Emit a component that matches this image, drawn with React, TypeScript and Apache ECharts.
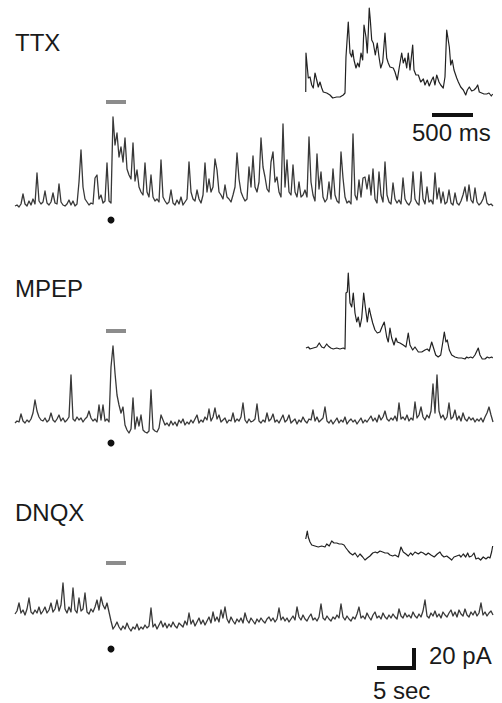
import React, { useEffect, useRef } from "react";
import * as echarts from "echarts";

// sampling period of the long recordings (s)
const DT = 0.2625;

// long recordings, current above baseline (pA)
const TTX_TRACE = [
  1, 2, 0, 3, 13, 3, 1, 6, 2, 8,
  3, 34, 6, 3, 5, 16, 4, 2, 5, 14,
  4, 3, 23, 5, 2, 1, 3, 7, 2, 6,
  1, 3, 25, 57, 20, 8, 5, 2, 4, 3,
  29, 32, 8, 12, 4, 6, 44, 6, 4, 90,
  62, 74, 50, 60, 45, 69, 38, 32, 28, 64,
  26, 37, 20, 15, 12, 44, 15, 10, 32, 10,
  6, 8, 5, 47, 10, 6, 3, 5, 17, 4,
  2, 7, 3, 10, 2, 5, 8, 45, 15, 8,
  6, 17, 8, 4, 12, 44, 15, 28, 15, 20,
  48, 37, 15, 12, 8, 22, 10, 8, 5, 12,
  20, 54, 28, 15, 10, 6, 8, 40, 20, 51,
  20, 15, 25, 69, 40, 30, 18, 15, 45, 55,
  25, 30, 15, 10, 83, 20, 47, 15, 12, 42,
  15, 10, 25, 10, 12, 17, 10, 70, 25, 12,
  6, 53, 18, 35, 10, 5, 8, 25, 8, 38,
  12, 6, 4, 55, 29, 10, 4, 6, 3, 73,
  12, 7, 27, 10, 29, 30, 18, 32, 12, 38,
  8, 4, 35, 12, 5, 45, 12, 5, 3, 24,
  8, 4, 7, 3, 29, 8, 4, 2, 6, 35,
  8, 4, 2, 35, 8, 3, 20, 5, 7, 3,
  34, 8, 19, 4, 15, 3, 5, 17, 4, 2,
  14, 4, 2, 6, 12, 20, 6, 22, 7, 4,
  19, 5, 2, 4, 8, 15, 4, 2, 3, 1,
];

const MPEP_TRACE = [
  0, 2, 1, 9, 2, 0, 3, 1, 4, 10,
  23, 12, 6, 3, 2, 5, 1, 3, 10, 3,
  1, 4, 8, 2, 5, 1, 3, 6, 48, 4,
  2, 6, 3, 5, 1, 4, 6, 12, 5, 2,
  4, 1, 18, 3, 18, 2, 4, 1, 56, 77,
  50, 28, 18, 10, 16, -2, -7, -10, -6, 25,
  -6, 6, -3, 8, -7, -9, -10, -8, 33, -6,
  -8, -9, -5, 8, 3, -2, 0, -3, 2, -2,
  1, -3, 3, 0, 4, -2, 1, -1, 3, 0,
  4, 8, 0, 3, 1, 6, 3, 14, 2, 6,
  15, 4, 8, 1, 3, 5, 0, 3, 2, 10,
  1, 4, 2, 6, 20, 3, 0, 4, 1, 2,
  4, 19, 2, 0, 3, 1, 10, 2, 4, 9,
  1, 3, 0, 4, 8, 1, 3, 8, 0, 2,
  4, -1, 3, 1, 6, 2, 0, 4, 3, 13,
  2, 6, 1, 3, 5, 16, 2, 0, 3, -1,
  2, 5, 0, 3, 1, 6, -1, 2, 4, 1,
  3, -1, 2, 5, 0, 3, 1, 4, 7, 2,
  5, 1, 8, 3, 6, 12, 4, 2, 5, 3,
  7, 2, 20, 4, 6, 3, 8, 2, 5, 3,
  21, 5, 8, 16, 6, 3, 8, 5, 12, 39,
  10, 48, 12, 5, 8, 3, 6, 20, 4, 6,
  13, 3, 7, 2, 10, 4, 2, 6, 3, 5,
  1, 4, 2, 5, 1, 6, 10, 16, 8, 1,
];

const DNQX_TRACE = [
  1, 4, 12, 2, 5, 0, 6, 17, 3, 1,
  5, 2, 8, 1, 4, 8, 2, 5, 12, 3,
  6, 15, 4, 10, 32, 6, 2, 8, 3, 27,
  5, 2, 17, 4, 6, 22, 3, 1, 6, 3,
  8, 15, 5, 18, 10, 6, 12, 3, -6, -14,
  -11, -7, -12, -15, -11, -14, -8, -13, -16, -12,
  -14, -9, -15, -12, -14, -10, -13, -11, 7, -12,
  -9, -14, -10, -6, -12, -8, -13, -9, -12, -7,
  -11, -13, -8, -10, -12, -6, -10, 2, -9, -5,
  -11, -7, -3, -9, -5, -10, -6, -2, -8, 3,
  -6, -2, -7, 5, -3, 8, -4, -8, -2, -6,
  -9, -4, -7, -3, -8, 2, -5, -8, -3, -6,
  -9, -4, -7, -3, -6, -8, -4, -2, -6, -3,
  -7, -4, 7, -5, -2, -6, -3, -7, -4, -1,
  -5, 8, -2, -5, 0, -4, -6, -2, 1, -5,
  -3, -6, -2, 11, -3, -5, -1, -4, -6, -2,
  -4, 0, -3, 11, -2, -5, -1, -4, -6, -2,
  -4, 1, 8, -3, -1, -4, 2, -2, -5, 0,
  3, -3, -1, -4, 2, -2, -4, 0, -3, 1,
  -2, -4, 6, -1, -3, 2, -2, 0, -3, 3,
  -1, -3, 1, -2, 4, 15, -1, -3, 2, -1,
  4, -2, 1, -3, 3, 0, -2, 2, 5, -1,
  3, -2, 5, 1, -1, 6, 0, -2, 3, 0,
  4, -1, 2, 12, 0, 3, -1, 2, 4, 0,
];

// expanded insets: time (ms) and current (pA)
const TTX_INSET_T = [
  9, 12, 40, 61, 82, 101, 122, 143, 162, 183, 204, 223, 265, 305, 338, 387, 427, 467, 488, 500,
  528, 549, 570, 582, 598, 622, 643, 662, 683, 704, 720, 744, 760, 772, 784, 797, 814, 833, 858, 882,
  903, 924, 948, 976, 997, 1016, 1037, 1077, 1098, 1126, 1151, 1180, 1199, 1220, 1241, 1260, 1281, 1314, 1330, 1354,
  1383, 1412, 1444, 1464, 1492, 1516, 1546, 1565, 1586, 1607, 1635, 1656, 1687, 1708, 1729, 1761, 1778, 1797, 1818, 1851,
  1871, 1900, 1932, 1961, 1981, 2005, 2034, 2062, 2086, 2107, 2127, 2156, 2184, 2217, 2245, 2273, 2290,
];
const TTX_INSET_V = [
  8, 47, 22, 23, 15, 12, 27, 20, 13, 18, 12, 8, 7, 5, 2, 3, 3, 5, 7, 43,
  78, 47, 43, 50, 40, 32, 37, 33, 47, 40, 75, 63, 47, 67, 92, 80, 60, 57, 45, 57,
  43, 32, 38, 67, 42, 37, 33, 32, 28, 20, 33, 47, 37, 42, 32, 47, 30, 55, 30, 25,
  25, 18, 21, 15, 20, 14, 20, 23, 15, 25, 18, 15, 12, 23, 70, 53, 35, 40, 30, 22,
  18, 13, 10, 5, 10, 13, 9, 10, 12, 15, 8, 7, 6, 6, 7, 4, 6,
];

const MPEP_INSET_T = [
  12, 40, 61, 101, 143, 174, 204, 232, 265, 284, 314, 345, 387, 427, 467, 488, 500, 516, 528, 549,
  570, 589, 610, 631, 650, 671, 692, 716, 736, 760, 784, 802, 826, 854, 882, 915, 939, 967, 997, 1016,
  1037, 1058, 1086, 1110, 1126, 1159, 1199, 1232, 1260, 1281, 1314, 1342, 1383, 1425, 1464, 1492, 1516, 1546, 1565, 1595,
  1625, 1656, 1680, 1700, 1720, 1736, 1761, 1790, 1830, 1871, 1912, 1952, 1973, 1993, 2022, 2046, 2074, 2114, 2135, 2163,
  2196, 2224, 2248, 2277, 2290,
];
const MPEP_INSET_V = [
  12, 13, 11, 12, 13, 17, 13, 12, 16, 14, 12, 11, 12, 11, 12, 11, 67, 68, 87, 57,
  53, 67, 47, 38, 43, 33, 42, 67, 53, 38, 52, 45, 37, 30, 27, 28, 33, 38, 23, 18,
  32, 22, 15, 22, 18, 17, 15, 13, 27, 15, 10, 13, 8, 8, 10, 11, 9, 18, 13, 5,
  3, 5, 17, 28, 18, 20, 10, 5, 3, 2, 2, 1, 3, 2, 3, 2, 5, 12, 5, 1,
  1, 3, 2, 3, 2,
];

const DNQX_INSET_T = [
  9, 28, 40, 61, 82, 122, 162, 204, 244, 265, 296, 326, 354, 387, 418, 448, 476, 500, 528, 549,
  582, 610, 643, 671, 704, 732, 760, 793, 826, 858, 882, 915, 948, 976, 1009, 1037, 1070, 1098, 1139, 1171,
  1199, 1232, 1260, 1289, 1313, 1342, 1383, 1415, 1443, 1476, 1504, 1537, 1577, 1614, 1647, 1668, 1696, 1729, 1761, 1790,
  1818, 1851, 1883, 1903, 1931, 1961, 1985, 2005, 2034, 2062, 2086, 2114, 2143, 2175, 2208, 2236, 2257, 2277, 2290,
];
const DNQX_INSET_V = [
  26, 34, 28, 23, 20, 19, 18, 19, 18, 21, 19, 24, 22, 22, 21, 21, 20, 17, 14, 12,
  10, 12, 8, 11, 8, 5, 7, 9, 12, 13, 12, 14, 13, 12, 12, 10, 9, 10, 8, 18,
  13, 11, 9, 12, 10, 13, 11, 13, 12, 10, 12, 10, 8, 11, 13, 10, 8, 9, 7, 5,
  8, 9, 10, 8, 11, 8, 12, 8, 9, 12, 6, 7, 5, 8, 6, 8, 7, 13, 19,
];

const LABELS = ["TTX", "MPEP", "DNQX"];
const INSET_BAR_LABEL = "500 ms";
const AMP_BAR_LABEL = "20 pA";
const TIME_BAR_LABEL = "5 sec";

const FONT = "'Liberation Sans', Arial, Helvetica, sans-serif";

export default function App() {
  const ref = useRef<HTMLDivElement>(null);

  useEffect(() => {
    if (!ref.current) return;
    const chart = echarts.init(ref.current, null, { renderer: "svg", width: 502, height: 703 });

    const mainMax = (TTX_TRACE.length - 1) * DT;
    const insetMax = 2294;

    const grids = [
      { left: 15, top: 99, width: 478, height: 120 },
      { left: 15, top: 333, width: 478, height: 120 },
      { left: 15, top: 575, width: 478, height: 70 },
      { left: 305, top: 0, width: 188, height: 100 },
      { left: 305, top: 260, width: 188, height: 100 },
      { left: 305, top: 525, width: 188, height: 40 },
    ];
    const yRanges = [
      [-12, 108],
      [-30, 90],
      [-30, 40],
      [0, 100],
      [0, 100],
      [0, 40],
    ];

    const mains = [TTX_TRACE, MPEP_TRACE, DNQX_TRACE];
    const insets = [
      [TTX_INSET_T, TTX_INSET_V],
      [MPEP_INSET_T, MPEP_INSET_V],
      [DNQX_INSET_T, DNQX_INSET_V],
    ];

    const series: any[] = [];
    mains.forEach((arr, k) => {
      series.push({
        type: "line",
        xAxisIndex: k,
        yAxisIndex: k,
        data: arr.map((v, i) => [i * DT, v]),
        symbol: "none",
        silent: true,
        clip: false,
        lineStyle: { color: "#383838", width: 1.3, join: "round" },
      });
    });
    insets.forEach(([ts, vs], k) => {
      series.push({
        type: "line",
        xAxisIndex: 3 + k,
        yAxisIndex: 3 + k,
        data: ts.map((t, i) => [t, vs[i]]),
        symbol: "none",
        silent: true,
        clip: false,
        lineStyle: { color: "#222222", width: 1.2, join: "round" },
      });
    });

    const text = (t: string, x: number, y: number) => ({
      type: "text",
      x,
      y,
      silent: true,
      style: {
        text: t,
        fontSize: 24,
        fontFamily: FONT,
        fill: "#1a1a1a",
        align: "left",
        verticalAlign: "middle",
      },
    });
    const rect = (x: number, y: number, w: number, h: number, fill: string) => ({
      type: "rect",
      silent: true,
      shape: { x, y, width: w, height: h },
      style: { fill },
    });
    const dot = (cx: number, cy: number) => ({
      type: "circle",
      silent: true,
      shape: { cx, cy, r: 3.5 },
      style: { fill: "#111" },
    });

    const graphic = [
      text(LABELS[0], 15, 42),
      text(LABELS[1], 15, 288),
      text(LABELS[2], 15, 512),
      rect(106, 100, 20, 4, "#8c8c8c"),
      rect(106, 329, 20, 4, "#8c8c8c"),
      rect(106, 561, 20, 4, "#8c8c8c"),
      dot(111, 220),
      dot(111, 443),
      dot(111, 649),
      rect(432, 113, 41, 4, "#111"),
      text(INSET_BAR_LABEL, 412, 132),
      rect(377, 666, 39, 4, "#111"),
      rect(412, 648, 4, 22, "#111"),
      text(AMP_BAR_LABEL, 429, 655),
      text(TIME_BAR_LABEL, 373, 690),
    ];

    chart.setOption({
      animation: false,
      backgroundColor: "#ffffff",
      textStyle: { fontFamily: FONT },
      grid: grids.map((g) => ({ ...g, containLabel: false })),
      xAxis: grids.map((_, i) => ({
        type: "value",
        gridIndex: i,
        min: 0,
        max: i < 3 ? mainMax : insetMax,
        show: false,
      })),
      yAxis: grids.map((_, i) => ({
        type: "value",
        gridIndex: i,
        min: yRanges[i][0],
        max: yRanges[i][1],
        show: false,
      })),
      series,
      graphic,
    });

    return () => chart.dispose();
  }, []);

  return (
    <div
      ref={ref}
      style={{ position: "fixed", left: 0, top: 0, width: 502, height: 703, background: "#fff" }}
    />
  );
}
